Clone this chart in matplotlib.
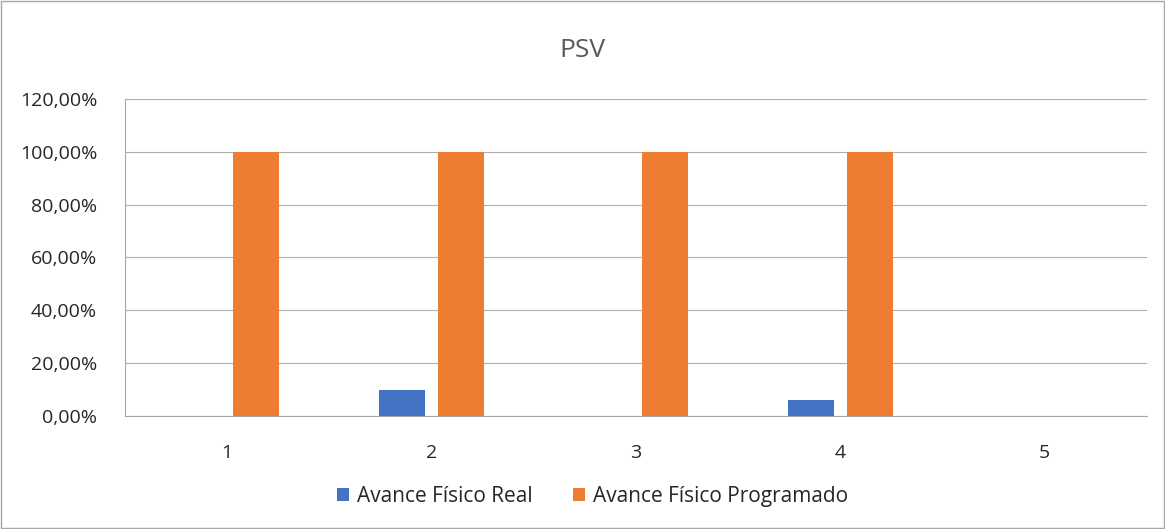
import matplotlib.pyplot as plt
import numpy as np
from matplotlib.ticker import FuncFormatter

categories = ['1', '2', '3', '4', '5']
avance_real = [0, 10, 0, 6, 0]
avance_programado = [100, 100, 100, 100, 0]
series_names = ['Avance Físico Real', 'Avance Físico Programado']

plt.rcParams['font.family'] = ['Open Sans', 'DejaVu Sans']

fig = plt.figure(figsize=(11.65, 5.29), dpi=100)
ax = fig.add_axes([0.1073, 0.2136, 0.8772, 0.5993])

x = np.arange(len(categories))
w = 0.225
ax.bar(x - 0.143, avance_real, w, color='#4472C4', label=series_names[0], zorder=3)
ax.bar(x + 0.143, avance_programado, w, color='#ED7D31', label=series_names[1], zorder=3)

ax.set_xlim(-0.5, len(categories) - 0.5)
ax.set_ylim(0, 120)
ax.set_yticks(np.arange(0, 121, 20))
ax.yaxis.set_major_formatter(FuncFormatter(lambda v, p: f'{v:.2f}%'.replace('.', ',')))
ax.set_xticks(x)
ax.set_xticklabels(categories)
ax.grid(axis='y', color='#b0b0b0', linewidth=0.8, zorder=0)
for s in ['top', 'right']:
    ax.spines[s].set_visible(False)
ax.spines['bottom'].set_color('#a6a6a6')
ax.spines['left'].set_color('#a6a6a6')
ax.spines['left'].set_linewidth(0.8)
ax.tick_params(length=0, labelsize=14, colors='#262626')
ax.tick_params(axis='x', pad=20)
ax.tick_params(axis='y', pad=20)

fig.text(0.5, 0.905, 'PSV', ha='center', va='center', fontsize=19, color='#595959')
fig.legend(loc='center', bbox_to_anchor=(0.5086, 0.062), ncol=2, frameon=False,
           fontsize=15, handlelength=0.6, handleheight=0.6, columnspacing=1.9,
           handletextpad=0.4, labelcolor='#262626')

fig.patches.append(plt.Rectangle((0.001, 0.001), 0.998, 0.998, transform=fig.transFigure,
                                 fill=False, edgecolor='#a6a6a6', linewidth=1))

fig.savefig('out.png', dpi=100)
